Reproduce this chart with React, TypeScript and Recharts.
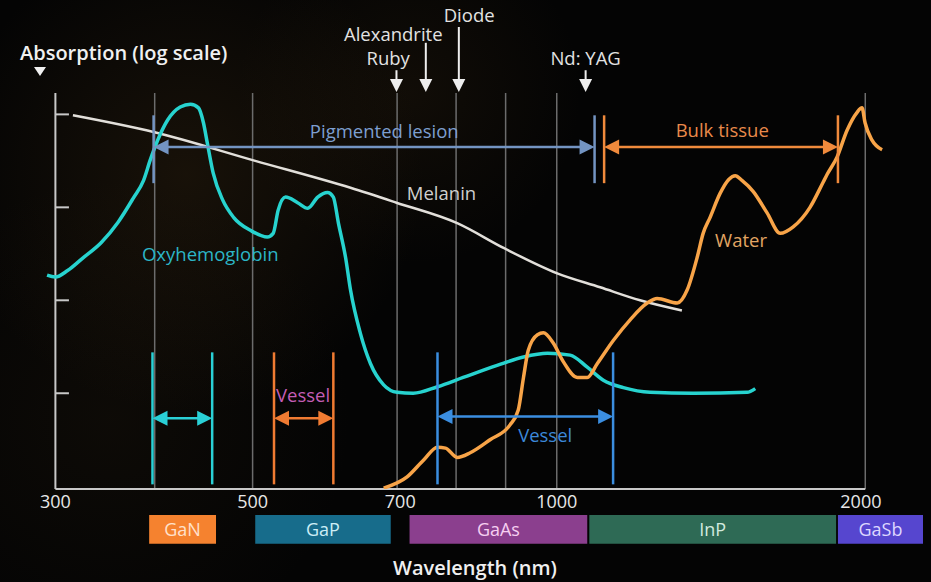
import React from 'react';
import { ComposedChart, Line, XAxis, YAxis, ReferenceLine, ReferenceArea, ReferenceDot } from 'recharts';

// x: wavelength in nm (log axis), y: absorption in decades (log scale, arbitrary origin)
const melaninNm = [332, 399, 503, 625, 694, 797, 887, 1001, 1104, 1209, 1330];
const melaninAbs = [4.02, 3.84, 3.53, 3.24, 3.08, 2.86, 2.59, 2.32, 2.17, 2.03, 1.92];

const oxyNm = [
  313, 319, 328, 340, 354, 368, 381, 390, 396, 403, 412, 424, 434, 442, 447, 451, 457, 467, 479, 498, 517, 524,
  530, 539, 554, 567, 580, 593, 601, 608, 618, 625, 639, 654, 674, 695, 721, 762, 808, 873, 927, 979, 1031,
  1072, 1112, 1164, 1237, 1365, 1543, 1572,
];
const oxyAbs = [
  2.3, 2.28, 2.35, 2.49, 2.65, 2.87, 3.13, 3.32, 3.54, 3.76, 3.97, 4.11, 4.14, 4.1, 3.94, 3.72, 3.4, 3.11, 2.92, 2.78, 2.71, 2.75,
  3.0, 3.14, 3.08, 3.02, 3.14, 3.19, 3.14, 2.86, 2.49, 2.14, 1.68, 1.35, 1.12, 1.04, 1.03, 1.1, 1.2, 1.33, 1.42, 1.46, 1.44,
  1.31, 1.17, 1.09, 1.04, 1.03, 1.04, 1.08,
];

const waterNm = [
  674, 711, 738, 762, 776, 797, 821, 859, 899, 916, 927, 937, 957, 970, 992, 1015, 1048, 1072, 1097, 1138,
  1182, 1229, 1257, 1316, 1346, 1377, 1396, 1418, 1451, 1480, 1502, 1525, 1565, 1615, 1664, 1714, 1781, 1835, 1851,
  1894, 1938, 1982, 2005, 2019, 2052, 2099,
];
const waterAbs = [
  0.01, 0.13, 0.31, 0.45, 0.44, 0.34, 0.39, 0.53, 0.69, 0.85, 1.2, 1.49, 1.66, 1.68, 1.57, 1.37, 1.2, 1.2, 1.35, 1.6,
  1.82, 2.0, 2.05, 2.0, 2.14, 2.49, 2.75, 2.92, 3.18, 3.33, 3.37, 3.32, 3.2, 2.97, 2.75, 2.82, 3.03, 3.3, 3.38,
  3.57, 3.86, 4.05, 4.1, 3.94, 3.75, 3.65,
];

// axis origin is labelled 300 in the source figure
const xTicks = [319, 500, 700, 1000, 2000];
const xTickLabels = ['300', '500', '700', '1000', '2000'];
const yTicks = [1, 2, 3, 4];
const gridNm = [400, 500, 695, 795, 890, 1000, 2020];

// laser lines
const laserNames = ['Ruby', 'Alexandrite', 'Diode', 'Nd: YAG'];
const laserNm = [694, 742, 800, 1068];
const laserTop = [4.505, 4.8, 4.97, 4.505];

// treatment windows [from, to] in nm
const pigmentedLesion = [399, 1090];
const bulkTissue = [1114, 1898];
const cyanWindow = [398, 456];
const vesselShort = [525, 601];
const vesselLong = [762, 1137];

// semiconductor emission ranges
const chipNames = ['GaN', 'GaP', 'GaAs', 'InP', 'GaSb'];
const chipFrom = [395, 503, 715, 1077, 1898];
const chipTo = [460, 685, 1072, 1890, 2304];
const chipFill = ['#f5822f', '#176c8b', '#8b3f8e', '#2e6a55', '#5646cf'];
const chipText = ['#ffe1cb', '#cdeef6', '#f6cff1', '#d2eadf', '#ddd7ff'];

const toPoints = (nm: number[], abs: number[]) => nm.map((x, i) => ({ nm: x, abs: abs[i] }));
const melanin = toPoints(melaninNm, melaninAbs);
const oxy = toPoints(oxyNm, oxyAbs);
const water = toPoints(waterNm, waterAbs);

const FONT = "'Open Sans', 'Noto Sans', sans-serif";
const LABEL_SIZE = 18.5;

const doubleArrow = (color: string) => (p: any) => {
  const { x1, y1, x2 } = p;
  const len = 15;
  const half = 7.5;
  return (
    <g>
      <line x1={x1 + len - 2} y1={y1} x2={x2 - len + 2} y2={y1} stroke={color} strokeWidth={2.5} />
      <polygon points={`${x1},${y1} ${x1 + len},${y1 - half} ${x1 + len},${y1 + half}`} fill={color} />
      <polygon points={`${x2},${y1} ${x2 - len},${y1 - half} ${x2 - len},${y1 + half}`} fill={color} />
    </g>
  );
};

const downArrow = (p: any) => {
  const { x1, y1, y2 } = p;
  return (
    <g>
      <line x1={x1} y1={y1} x2={x1} y2={y2 - 10} stroke="#eeeeee" strokeWidth={2} />
      <polygon points={`${x1},${y2} ${x1 - 6.5},${y2 - 13} ${x1 + 6.5},${y2 - 13}`} fill="#eeeeee" />
    </g>
  );
};

const bracketParts = (range: number[], color: string, top: number, bottom: number, arrowY: number, key: string) => [
  <ReferenceLine
    key={key + 'a'}
    segment={[{ x: range[0], y: top }, { x: range[0], y: bottom }]}
    stroke={color}
    strokeWidth={2.5}
    ifOverflow="visible"
  />,
  <ReferenceLine
    key={key + 'b'}
    segment={[{ x: range[1], y: top }, { x: range[1], y: bottom }]}
    stroke={color}
    strokeWidth={2.5}
    ifOverflow="visible"
  />,
  <ReferenceLine
    key={key + 'c'}
    segment={[{ x: range[0], y: arrowY }, { x: range[1], y: arrowY }]}
    stroke={color}
    ifOverflow="visible"
    shape={doubleArrow(color)}
  />,
];

const textAt = (key: string, value: string, nm: number, abs: number, fill: string) => (
  <ReferenceDot
    key={key}
    x={nm}
    y={abs}
    r={0}
    fill="none"
    stroke="none"
    ifOverflow="visible"
    label={{ value, position: 'center', fill, fontSize: LABEL_SIZE }}
  />
);

export default function App() {
  return (
    <div
      style={{
        position: 'absolute',
        left: 0,
        top: 0,
        width: 931,
        height: 582,
        fontFamily: FONT,
        background:
          'radial-gradient(circle at 20% 30%, rgba(95,65,25,0.22) 0, rgba(0,0,0,0) 28%), radial-gradient(circle at 44% 16%, rgba(85,58,22,0.16) 0, rgba(0,0,0,0) 24%), radial-gradient(circle at 12% 72%, rgba(70,50,22,0.14) 0, rgba(0,0,0,0) 26%), #040404',
        overflow: 'hidden',
      }}
    >
      <ComposedChart width={931} height={582} margin={{ top: 93, right: 8, bottom: 0, left: 40 }}>
        <XAxis
          type="number"
          dataKey="nm"
          scale="log"
          domain={[308, 2304]}
          allowDataOverflow
          ticks={xTicks}
          interval={0}
          tickFormatter={(v: number, i: number) => xTickLabels[i]}
          height={93}
          axisLine={false}
          tickLine={false}
          tickSize={0}
          tickMargin={6}
          tick={{ fill: '#e8e8e8', fontSize: 18 }}
        />
        <YAxis type="number" domain={[0, 4.26]} allowDataOverflow hide />

        {gridNm.map((g) => (
          <ReferenceLine key={'g' + g} x={g} stroke="#6c6c6c" strokeWidth={1.5} />
        ))}
        <ReferenceLine x={319} stroke="#c8c8c8" strokeWidth={2} ifOverflow="visible" />
        <ReferenceLine
          segment={[{ x: 319, y: 0 }, { x: 2020, y: 0 }]}
          stroke="#c8c8c8"
          strokeWidth={2}
          ifOverflow="visible"
        />
        {yTicks.map((t) => (
          <ReferenceLine
            key={'yt' + t}
            segment={[{ x: 319, y: t + 0.03 }, { x: 329, y: t + 0.03 }]}
            stroke="#c8c8c8"
            strokeWidth={2}
            ifOverflow="visible"
          />
        ))}

        <Line data={melanin} dataKey="abs" type="monotone" stroke="#e2dfda" strokeWidth={2.5} dot={false} isAnimationActive={false} />
        <Line data={oxy} dataKey="abs" type="monotone" stroke="#27d3cf" strokeWidth={3.5} dot={false} isAnimationActive={false} />
        <Line data={water} dataKey="abs" type="monotone" stroke="#f8a448" strokeWidth={3.5} dot={false} isAnimationActive={false} />

        {laserNm.map((nm, i) => (
          <ReferenceLine
            key={'l' + i}
            segment={[{ x: nm, y: laserTop[i] }, { x: nm, y: 4.27 }]}
            stroke="#eeeeee"
            ifOverflow="visible"
            shape={downArrow}
          />
        ))}
        {textAt('tRuby', laserNames[0], 681, 4.63, '#e2e2e2')}
        {textAt('tAlex', laserNames[1], 689, 4.89, '#e2e2e2')}
        {textAt('tDiode', laserNames[2], 819, 5.09, '#e2e2e2')}
        {textAt('tYag', laserNames[3], 1068, 4.63, '#e2e2e2')}

        {bracketParts(pigmentedLesion, '#7394c2', 4.02, 3.29, 3.68, 'pl')}
        {bracketParts(bulkTissue, '#f08a3c', 4.02, 3.29, 3.68, 'bt')}
        {bracketParts(cyanWindow, '#2ad0d6', 1.47, 0.05, 0.76, 'cw')}
        {bracketParts(vesselShort, '#f07b32', 1.47, 0.05, 0.76, 'vs')}
        {bracketParts(vesselLong, '#3b8ee0', 1.47, 0.05, 0.78, 'vl')}

        {textAt('tPig', 'Pigmented lesion', 675, 3.85, '#7d9fd0')}
        {textAt('tBulk', 'Bulk tissue', 1458, 3.86, '#e98a4b')}
        {textAt('tMel', 'Melanin', 769, 3.18, '#d0d0d0')}
        {textAt('tOxy', 'Oxyhemoglobin', 454, 2.52, '#2cb6c6')}
        {textAt('tWater', 'Water', 1522, 2.67, '#e2a663')}
        {textAt('tV1', 'Vessel', 561, 1.01, '#c45db5')}
        {textAt('tV2', 'Vessel', 974, 0.58, '#3c88d8')}

        {chipNames.map((name, i) => (
          <ReferenceArea
            key={'c' + name}
            x1={chipFrom[i]}
            x2={chipTo[i]}
            y1={-0.28}
            y2={-0.59}
            fill={chipFill[i]}
            fillOpacity={1}
            stroke="none"
            ifOverflow="visible"
            label={{ value: name, position: 'center', fill: chipText[i], fontSize: 18 }}
          />
        ))}
      </ComposedChart>

      <div
        style={{
          position: 'absolute',
          left: 20,
          top: 39,
          lineHeight: '28px',
          fontSize: 20,
          fontWeight: 600,
          color: '#f0f0f0',
        }}
      >
        Absorption (log scale)
      </div>
      <div
        style={{
          position: 'absolute',
          left: 34,
          top: 67,
          width: 0,
          height: 0,
          borderLeft: '6px solid transparent',
          borderRight: '6px solid transparent',
          borderTop: '9px solid #f0f0f0',
        }}
      />
      <div
        style={{
          position: 'absolute',
          left: 0,
          width: 950,
          top: 554,
          textAlign: 'center',
          lineHeight: '28px',
          fontSize: 20,
          fontWeight: 600,
          color: '#f0f0f0',
        }}
      >
        Wavelength (nm)
      </div>
    </div>
  );
}
